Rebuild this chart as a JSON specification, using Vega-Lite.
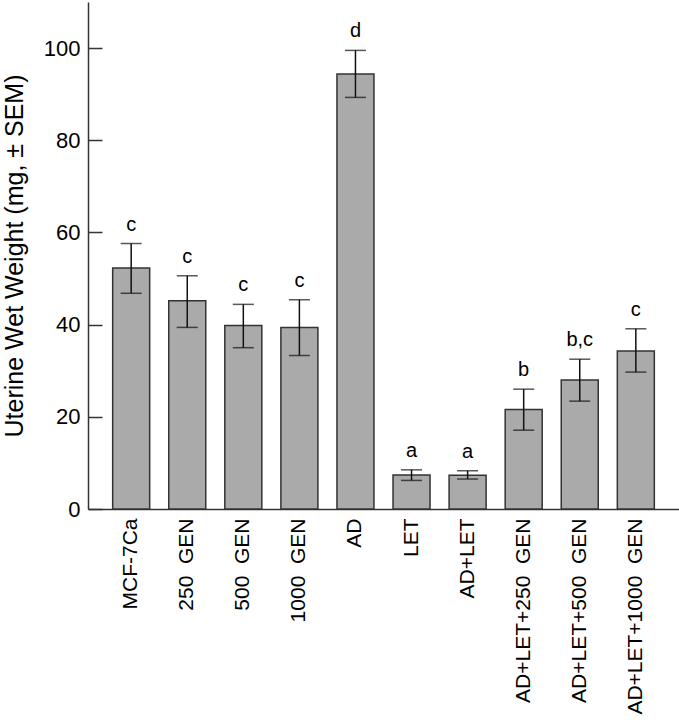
{
  "$schema": "https://vega.github.io/schema/vega-lite/v6.json",
  "autosize": {"type": "none"},
  "padding": {"left": 88, "top": 2, "right": 0, "bottom": 211},
  "width": 591,
  "height": 507,
  "config": {
    "view": {"stroke": null},
    "font": "Liberation Sans",
    "axis": {"labelFont": "Liberation Sans", "titleFont": "Liberation Sans", "labelColor": "#000", "titleColor": "#000", "domainColor": "#333", "tickColor": "#333", "domainWidth": 1.5, "tickWidth": 1.5, "grid": false}
  },
  "data": {"values": [
    {"group": "MCF-7Ca", "mean": 52.3, "lo": 46.8, "hi": 57.6, "sig": "c"},
    {"group": "250\u00a0\u00a0GEN", "mean": 45.2, "lo": 39.4, "hi": 50.6, "sig": "c"},
    {"group": "500\u00a0\u00a0GEN", "mean": 39.8, "lo": 35.0, "hi": 44.4, "sig": "c"},
    {"group": "1000\u00a0\u00a0GEN", "mean": 39.4, "lo": 33.3, "hi": 45.4, "sig": "c"},
    {"group": "AD", "mean": 94.4, "lo": 89.3, "hi": 99.5, "sig": "d"},
    {"group": "LET", "mean": 7.4, "lo": 6.2, "hi": 8.5, "sig": "a"},
    {"group": "AD+LET", "mean": 7.3, "lo": 6.5, "hi": 8.3, "sig": "a"},
    {"group": "AD+LET+250\u00a0\u00a0GEN", "mean": 21.6, "lo": 17.1, "hi": 26.0, "sig": "b"},
    {"group": "AD+LET+500\u00a0\u00a0GEN", "mean": 28.0, "lo": 23.4, "hi": 32.5, "sig": "b,c"},
    {"group": "AD+LET+1000\u00a0\u00a0GEN", "mean": 34.3, "lo": 29.7, "hi": 39.1, "sig": "c"}
  ]},
  "encoding": {
    "x": {"field": "group", "type": "nominal", "sort": null,
      "scale": {"paddingInner": 0.34, "paddingOuter": 0.44},
      "axis": {"title": null, "labelAngle": -90, "labelAlign": "right", "labelBaseline": "middle", "labelFontSize": 21, "labelPadding": 9, "ticks": false, "labelLimit": 300}}
  },
  "layer": [
    {"mark": {"type": "bar", "color": "#aaaaaa", "stroke": "#333333", "strokeWidth": 1.5},
     "encoding": {"y": {"field": "mean", "type": "quantitative", "scale": {"domain": [0, 110], "nice": false},
       "axis": {"title": "Uterine Wet Weight (mg, ± SEM)", "values": [0, 20, 40, 60, 80, 100], "tickSize": -14, "labelPadding": 22, "labelFontSize": 22, "titleFontSize": 25, "titleFontWeight": "normal", "titlePadding": 16}}}},
    {"mark": {"type": "rule", "color": "#111", "strokeWidth": 1.5},
     "encoding": {"y": {"field": "lo", "type": "quantitative"}, "y2": {"field": "hi"}}},
    {"mark": {"type": "tick", "color": "#111", "thickness": 1.5, "size": 21, "orient": "horizontal"},
     "encoding": {"y": {"field": "lo", "type": "quantitative"}}},
    {"mark": {"type": "tick", "color": "#111", "thickness": 1.5, "size": 21, "orient": "horizontal"},
     "encoding": {"y": {"field": "hi", "type": "quantitative"}}},
    {"mark": {"type": "text", "baseline": "bottom", "dy": -9, "fontSize": 20, "color": "#000"},
     "encoding": {"y": {"field": "hi", "type": "quantitative"}, "text": {"field": "sig"}}}
  ]
}
